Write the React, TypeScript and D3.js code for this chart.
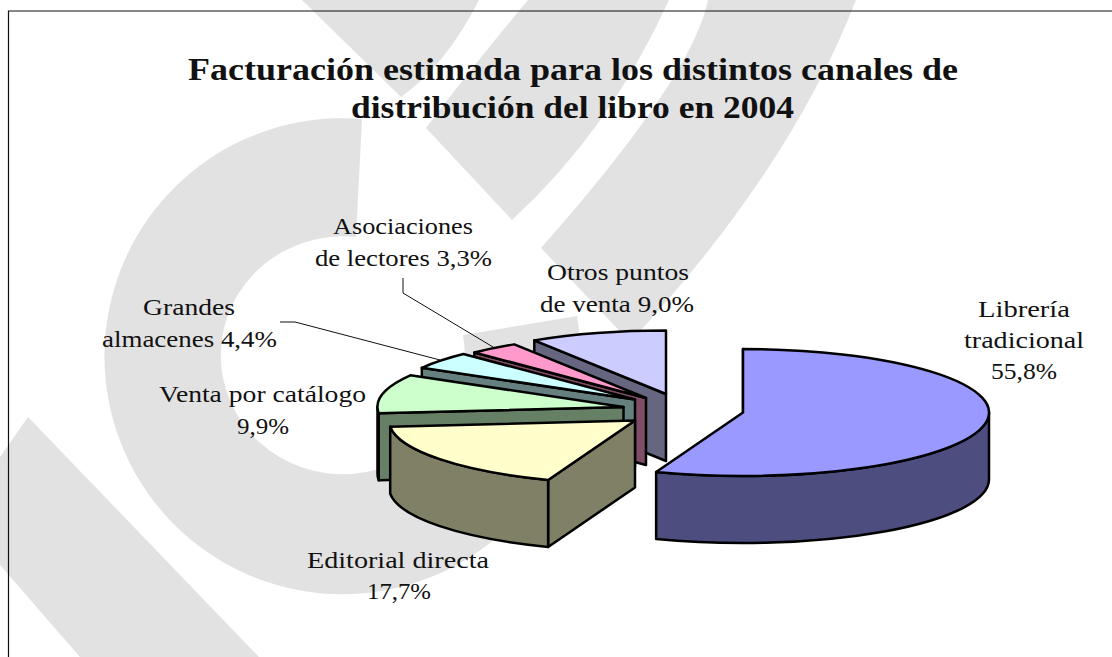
import React from "react";
import * as d3 from "d3";

const categories = ["Librería tradicional", "Editorial directa", "Venta por catálogo", "Grandes almacenes", "Asociaciones de lectores", "Otros puntos de venta"];
const shares = [55.8, 17.7, 9.9, 4.4, 3.3, 9.0];
const topColors = ["#9999FF", "#FFFFCC", "#CCFFCC", "#CCFFFF", "#FF99CC", "#CCCCFF"];
const wallColors = ["#4D4D80", "#808066", "#668066", "#668080", "#804D66", "#666680"];
const titleLines = ["Facturación estimada para los distintos canales de", "distribución del libro en 2004"];
const sliceLabels = [
  ["Librería", "tradicional", "55,8%"],
  ["Editorial directa", "17,7%"],
  ["Venta por catálogo", "9,9%"],
  ["Grandes", "almacenes 4,4%"],
  ["Asociaciones", "de lectores 3,3%"],
  ["Otros puntos", "de venta 9,0%"],
];

// layout
const RX = 246, RY = 63.5, DEPTH = 67, SW = 2.5;
const explodedCenters: [number, number][] = [[743, 412.5], [635, 420.5], [623.5, 407], [635, 399.5], [646, 398], [666, 394]];
const labelBoxes: [number, number, number][][] = [
  [[978, 1070, 317], [964, 1084, 348], [991, 1057, 379]],
  [[307, 489, 568], [367, 431, 599]],
  [[159, 366, 402], [237, 289, 434]],
  [[143, 235, 315], [102, 277, 347]],
  [[333, 473, 234], [315, 492, 266]],
  [[547, 689, 280], [540, 694, 312]],
];
const titleBoxes: [number, number, number][] = [[188, 958, 80], [351, 794, 118]];
const leaders: [number, number][][] = [
  [[280, 322], [295, 322], [440, 360]],
  [[403, 278], [403, 293], [493, 347]],
];
const watermark = [
  "M362,119 A238,238 0 1 0 577,316 L463,335 A122,119 0 1 1 356,237 Z",
  "M302,0 L401,97 Q446,65 479,0 Z",
  "M528,0 Q468,72 426,128 L512,220 Q610,130 669,0 Z",
  "M708,0 Q693,76 541,248 L630,342 Q790,170 856,0 Z",
  "M28,417 L259,657 L80,657 L0,565 L0,457 Z",
];

const FONT = "'Liberation Serif', serif";

function Slice({ i, a0, a1 }: { i: number; a0: number; a1: number }) {
  const [cx, cy] = explodedCenters[i];
  const px = (a: number) => cx + RX * Math.sin(a);
  const py = (a: number) => cy - RY * Math.cos(a);
  const large = a1 - a0 > Math.PI ? 1 : 0;
  const top = `M${cx},${cy} L${px(a0)},${py(a0)} A${RX},${RY} 0 ${large} 1 ${px(a1)},${py(a1)} Z`;
  const startWall = `M${px(a0)},${py(a0)} L${cx},${cy} L${cx},${cy + DEPTH} L${px(a0)},${py(a0) + DEPTH} Z`;
  const b0 = Math.max(a0, Math.PI / 2), b1 = Math.min(a1, (3 * Math.PI) / 2);
  const outer = b1 > b0
    ? `M${px(b0)},${py(b0)} A${RX},${RY} 0 0 1 ${px(b1)},${py(b1)} L${px(b1)},${py(b1) + DEPTH} A${RX},${RY} 0 0 0 ${px(b0)},${py(b0) + DEPTH} Z`
    : null;
  const common = { stroke: "#000", strokeWidth: SW, strokeLinejoin: "round" as const };
  return (
    <g>
      <path d={startWall} fill={wallColors[i]} {...common} />
      {outer && <path d={outer} fill={wallColors[i]} {...common} />}
      <path d={top} fill={topColors[i]} {...common} />
    </g>
  );
}

export default function App() {
  const arcs = d3.pie<number>().sort(null).value((d) => d)(shares);
  const paintOrder = [5, 4, 3, 2, 1, 0];
  const line = d3.line();
  return (
    <svg width={1112} height={657} viewBox="0 0 1112 657" style={{ position: "absolute", left: 0, top: 0, display: "block", background: "#fff" }}>
      {watermark.map((d, i) => <path key={i} d={d} fill="#e2e2e2" />)}
      <path d="M8.5,700 L8.5,11 L1200,11" fill="none" stroke="#111" strokeWidth={1.2} />
      {leaders.map((l, i) => <path key={i} d={line(l) || ""} fill="none" stroke="#111" strokeWidth={1} />)}
      {paintOrder.map((i) => <Slice key={categories[i]} i={i} a0={arcs[i].startAngle} a1={arcs[i].endAngle} />)}
      {titleLines.map((t, i) => (
        <text key={i} x={titleBoxes[i][0]} y={titleBoxes[i][2]} textLength={titleBoxes[i][1] - titleBoxes[i][0]} lengthAdjust="spacingAndGlyphs"
          fontFamily={FONT} fontWeight="bold" fontSize={31} fill="#111">{t}</text>
      ))}
      {sliceLabels.map((lines, i) => lines.map((t, j) => (
        <text key={`${i}-${j}`} x={labelBoxes[i][j][0]} y={labelBoxes[i][j][2]} textLength={labelBoxes[i][j][1] - labelBoxes[i][j][0]} lengthAdjust="spacingAndGlyphs"
          fontFamily={FONT} fontSize={24} fill="#111">{t}</text>
      )))}
    </svg>
  );
}
